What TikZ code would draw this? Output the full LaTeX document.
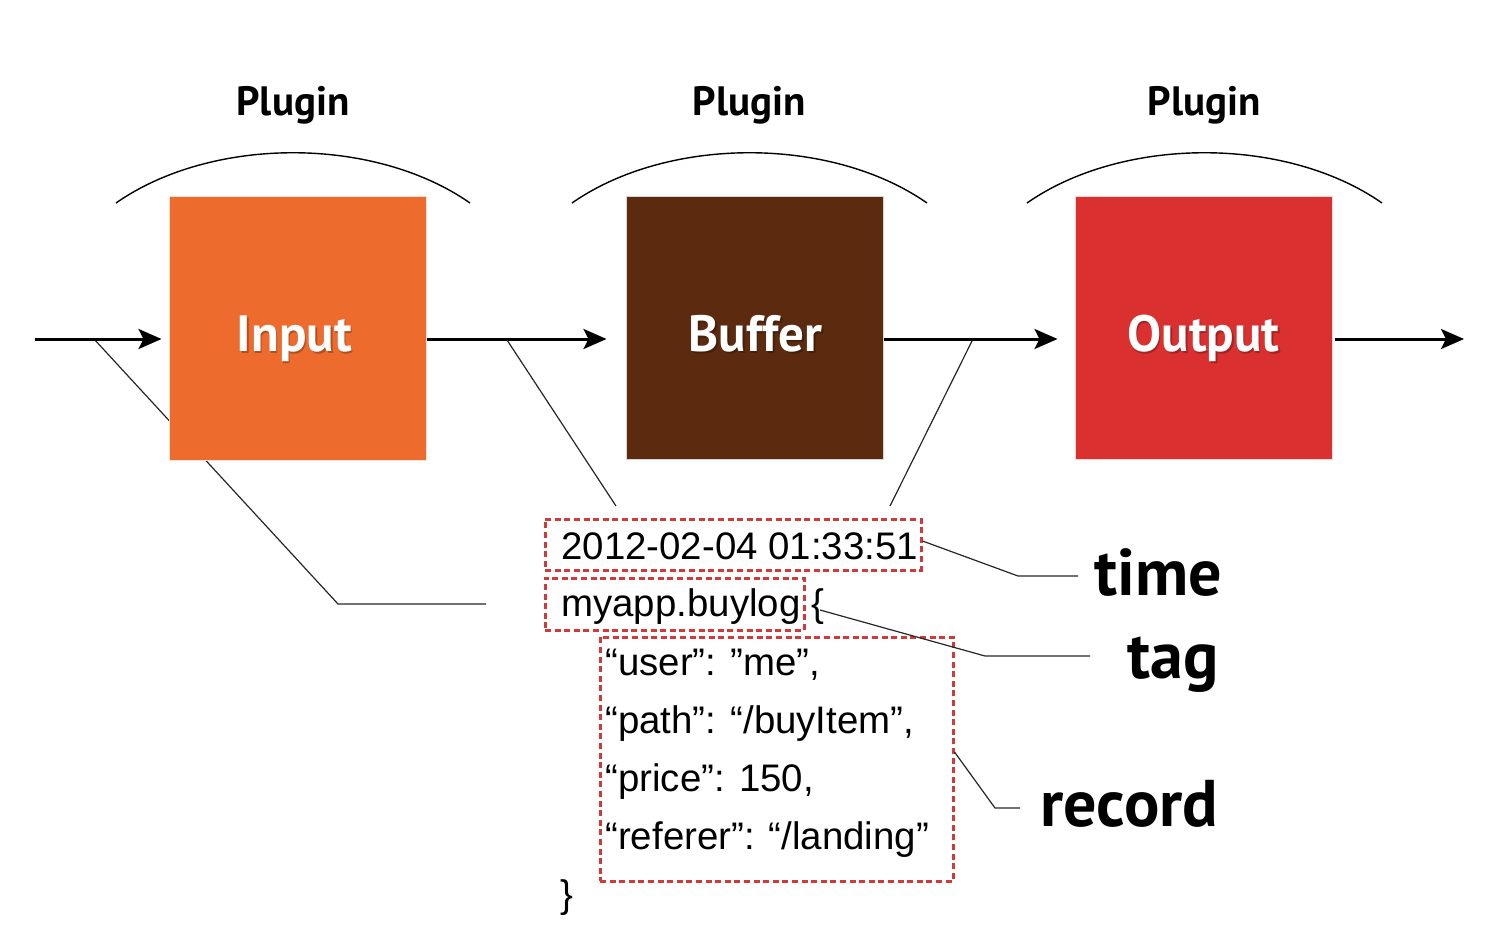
\documentclass[tikz,border=0pt]{standalone}
\usepackage{fontspec}
\setmainfont{Liberation Sans}
\newfontfamily\ptsans{PT Sans}
\usetikzlibrary{arrows.meta}
\definecolor{inputc}{HTML}{EC6B2D}
\definecolor{bufc}{HTML}{5C2A0F}
\definecolor{outc}{HTML}{DA302F}
\definecolor{dashred}{HTML}{D23A3A}
\begin{document}
\begin{tikzpicture}[x=0.5pt,y=-0.5pt,
  stage/.style={draw=white!80!#1, line width=0.5pt, fill=#1, minimum width=128.5pt, minimum height=131.5pt, inner sep=0pt},
  stagetext/.style={text=white, anchor=base, inner sep=0pt, font=\ptsans\bfseries\fontsize{25.5}{30}\selectfont},
  flow/.style={line width=1.5pt, -{Stealth[length=11.5pt,width=10pt,inset=2.5pt]}},
  callout/.style={line width=0.6pt, draw=black!85},
  plug/.style={anchor=base, inner sep=0pt, font=\ptsans\bfseries\fontsize{20.5}{24}\selectfont},
  plugarc/.style={line width=0.7pt},
  dbox/.style={draw=dashred, dash pattern=on 3pt off 1.8pt, line width=1.5pt, inner sep=0pt},
  code/.style={anchor=base west, inner sep=0pt, font=\fontsize{19.2}{22}\selectfont},
  big/.style={anchor=base west, inner sep=0pt, font=\ptsans\bfseries\fontsize{33}{38}\selectfont}
]
\useasboundingbox (0,0) rectangle (1502,936);

% callout behind the Input box
\coordinate (c1a) at (94,339);
\coordinate (c1b) at (338,604);
\coordinate (c1c) at (486,604);
\draw[callout] (c1a) -- (c1b) -- (c1c);

% stages
\node[stage=inputc] (input) at (297.5,328.5) {};
\node[stage=bufc] (buffer) at (754.5,328) {};
\node[stage=outc] (output) at (1203.5,328) {};
\node[stagetext, text=black, opacity=0.25] (inputsh) at (296,353) {Input};
\node[stagetext] (inputlbl) at (294.5,351.5) {Input};
\node[stagetext, text=black, opacity=0.25] (buffersh) at (757,353) {Buffer};
\node[stagetext] (bufferlbl) at (755.5,351.5) {Buffer};
\node[stagetext, text=black, opacity=0.25] (outputsh) at (1205,353) {Output};
\node[stagetext] (outputlbl) at (1203.5,351.5) {Output};

% plugin labels and arcs
\node[plug] (p1) at (293,116) {Plugin};
\node[plug] (p2) at (749,116) {Plugin};
\node[plug] (p3) at (1204,116) {Plugin};
\coordinate (a1l) at (116,203); \coordinate (a1r) at (470,203);
\coordinate (a2l) at (572,203); \coordinate (a2r) at (927,203);
\coordinate (a3l) at (1027,203); \coordinate (a3r) at (1382,203);
\draw[plugarc] (a1l) .. controls (212,136) and (374,136) .. (a1r);
\draw[plugarc] (a2l) .. controls (668,136) and (831,136) .. (a2r);
\draw[plugarc] (a3l) .. controls (1123,136) and (1286,136) .. (a3r);

% flow arrows
\coordinate (fin) at (35,339);
\coordinate (fout) at (1464,339);
\draw[flow, shorten >=3.5pt] (fin) -- (input.west |- fin);
\draw[flow, shorten >=9.5pt] (input.east |- fin) -- (buffer.west |- fin);
\draw[flow, shorten >=8.5pt] (buffer.east |- fin) -- (output.west |- fin);
\draw[flow, shorten <=1pt] (output.east |- fin) -- (fout);

% other callouts from arrows
\coordinate (c2a) at (507,340); \coordinate (c2b) at (616,506);
\coordinate (c3a) at (972,341); \coordinate (c3b) at (890,506);
\draw[callout] (c2a) -- (c2b);
\draw[callout] (c3a) -- (c3b);

% dashed boxes
\node[dbox, minimum width=188pt, minimum height=25.5pt] (timebox) at (733,544.5) {};
\node[dbox, minimum width=129.5pt, minimum height=26pt] (tagbox) at (674.5,604) {};
\node[dbox, minimum width=176.5pt, minimum height=122pt] (recbox) at (776.5,759) {};

% event text
\node[code] (ttime) at (561,559) {2012-02-04 01:33:51};
\node[code] (ttag) at (561,616) {myapp.buylog {\char`\{}};
\node[code] (r1) at (605,675) {“user”: ”me”,};
\node[code] (r2) at (605,733) {“path”: “/buyItem”,};
\node[code] (r3) at (605,791) {“price”: 150,};
\node[code] (r4) at (605,849) {“referer”: “/landing”};
\node[code] (rclose) at (560,907) {{\char`\}}};

% labels on the right
\node[big] (ltime) at (1094,595) {time};
\node[big] (ltag) at (1127,678) {tag};
\node[big] (lrec) at (1040,826) {record};

\coordinate (tm1) at (1018,576); \coordinate (tm2) at (1078,576);
\draw[callout] (timebox.east |- 0,541) -- (tm1) -- (tm2);
\coordinate (tg0) at (820,610); \coordinate (tg1) at (985,656); \coordinate (tg2) at (1090,656);
\draw[callout] (tg0) -- (tg1) -- (tg2);
\coordinate (rc1) at (995,808); \coordinate (rc2) at (1020,808);
\draw[callout] (recbox.east |- 0,752) -- (rc1) -- (rc2);
\end{tikzpicture}
\end{document}
